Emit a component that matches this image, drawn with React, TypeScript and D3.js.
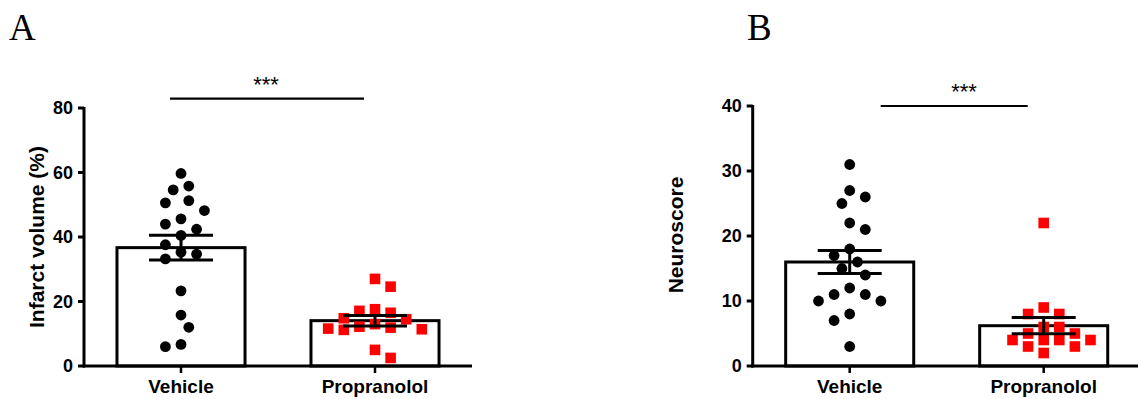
import React from "react";
import * as d3 from "d3";

// ---------- data ----------
const groups = ["Vehicle", "Propranolol"];

const infarctVehicle = [59.7, 55.8, 54.6, 51.3, 50.6, 48.2, 45.6, 44.0, 42.4, 40.5, 37.6, 35.3, 34.7, 33.2, 23.3, 15.8, 12.0, 6.7, 6.0];
const infarctPropranolol = [27.0, 24.6, 17.6, 17.1, 16.5, 14.8, 14.5, 13.0, 12.2, 11.9, 11.6, 11.4, 11.2, 5.0, 2.5];

const neuroVehicle = [31, 27, 26, 25, 22, 21, 18, 17, 16, 15, 14, 12, 11, 11, 10, 10, 8, 7, 3];
const neuroPropranolol = [22, 9, 8, 8, 6, 6, 5, 5, 4, 4, 4, 4, 3, 3, 2];

const infarctTicks = [0, 20, 40, 60, 80];
const neuroTicks = [0, 10, 20, 30, 40];

// ---------- helpers ----------
const mean = (a: number[]) => d3.mean(a) as number;
const sem = (a: number[]) => (d3.deviation(a) as number) / Math.sqrt(a.length);

const SLOT = 7.8;

function swarm(values: number[], y: (v: number) => number, shape: "circle" | "square", size: number) {
  const order = values.map((v, i) => i).sort((a, b) => values[b] - values[a]);
  const placed: { dx: number; y: number }[] = [];
  const offsets = new Array(values.length).fill(0);
  let flip = 1;
  const collides = (dx: number, yy: number) =>
    placed.some((p) => {
      const ddx = Math.abs(p.dx - dx);
      const ddy = Math.abs(p.y - yy);
      if (shape === "circle") return Math.hypot(ddx, ddy) < size;
      return ddx < size && ddy < size;
    });
  for (const i of order) {
    const yy = y(values[i]);
    let chosen = 0;
    outer: for (let k = 0; k < 40; k++) {
      const cands = k === 0 ? [0] : [flip * k, -flip * k];
      for (const c of cands) {
        if (!collides(c * SLOT, yy)) {
          chosen = c;
          break outer;
        }
      }
    }
    if (chosen !== 0) flip = chosen > 0 ? -1 : 1;
    placed.push({ dx: chosen * SLOT, y: yy });
    offsets[i] = chosen * SLOT;
  }
  return offsets;
}

const SANS = "'Liberation Sans', Arial, sans-serif";

type PanelProps = {
  letter: string;
  letterX: number;
  axisX: number;
  yTop: number;
  yMax: number;
  ticks: number[];
  title: string;
  titleX: number;
  titleY: number;
  series: number[][];
  sigDx1: number;
  sigDx2: number;
  sigY: number;
  starX: number;
  starY: number;
};

const Y0 = 366;
const AXLEN = 388;

function Panel(p: PanelProps) {
  const x = d3
    .scaleBand<string>()
    .domain(groups)
    .range([p.axisX, p.axisX + AXLEN])
    .paddingInner(0.34)
    .paddingOuter(0.17);
  const y = d3.scaleLinear().domain([0, p.yMax]).range([Y0, p.yTop]);
  const bw = x.bandwidth();
  const cx = (g: string) => (x(g) as number) + bw / 2;
  const capHalf = 32;

  return (
    <g>
      <text x={p.letterX} y={40} fontFamily="'Liberation Serif', 'Times New Roman', serif" fontSize={37}>
        {p.letter}
      </text>

      {/* bars */}
      {groups.map((g, gi) => (
        <rect
          key={"bar" + g}
          x={x(g)}
          y={y(mean(p.series[gi]))}
          width={bw}
          height={Y0 - y(mean(p.series[gi]))}
          fill="#fff"
          stroke="#000"
          strokeWidth={3}
        />
      ))}

      {/* points */}
      {groups.map((g, gi) => {
        const vals = p.series[gi];
        const shape = gi === 0 ? "circle" : "square";
        const offs = swarm(vals, (v) => y(v), shape, gi === 0 ? 14 : 11);
        return (
          <g key={"pts" + g}>
            {vals.map((v, i) =>
              gi === 0 ? (
                <circle key={i} cx={cx(g) + offs[i]} cy={y(v)} r={5.4} fill="#000" />
              ) : (
                <rect key={i} x={cx(g) + offs[i] - 5.3} y={y(v) - 5.3} width={10.6} height={10.6} fill="#ff0000" />
              )
            )}
          </g>
        );
      })}

      {/* error bars */}
      {groups.map((g, gi) => {
        const m = mean(p.series[gi]);
        const s = sem(p.series[gi]);
        const c = cx(g);
        return (
          <g key={"err" + g} stroke="#000" strokeWidth={3}>
            <line x1={c} x2={c} y1={y(m + s)} y2={y(m - s)} />
            <line x1={c - capHalf} x2={c + capHalf} y1={y(m + s)} y2={y(m + s)} />
            <line x1={c - capHalf} x2={c + capHalf} y1={y(m - s)} y2={y(m - s)} />
          </g>
        );
      })}

      {/* y axis */}
      <line x1={p.axisX} x2={p.axisX} y1={p.yTop - 1} y2={Y0 + 1.5} stroke="#000" strokeWidth={3} />
      {p.ticks.map((t) => (
        <g key={"t" + t}>
          <line x1={p.axisX - 6} x2={p.axisX} y1={y(t)} y2={y(t)} stroke="#000" strokeWidth={3} />
          <text
            x={p.axisX - 11}
            y={y(t)}
            dy="0.36em"
            textAnchor="end"
            fontFamily={SANS}
            fontWeight="bold"
            fontSize={18}
          >
            {t}
          </text>
        </g>
      ))}

      {/* x axis */}
      <line x1={p.axisX - 1.5} x2={p.axisX + AXLEN} y1={Y0} y2={Y0} stroke="#000" strokeWidth={3} />
      {groups.map((g) => (
        <g key={"xt" + g}>
          <line x1={cx(g)} x2={cx(g)} y1={Y0} y2={Y0 + 7} stroke="#000" strokeWidth={2.5} />
          <text x={cx(g)} y={393} textAnchor="middle" fontFamily={SANS} fontWeight="bold" fontSize={19}>
            {g}
          </text>
        </g>
      ))}

      {/* axis title */}
      <text
        transform={`translate(${p.titleX},${p.titleY}) rotate(-90)`}
        textAnchor="middle"
        dy="0.36em"
        fontFamily={SANS}
        fontWeight="bold"
        fontSize={21}
      >
        {p.title}
      </text>

      {/* significance */}
      <line
        x1={cx(groups[0]) + p.sigDx1}
        x2={cx(groups[1]) + p.sigDx2}
        y1={p.sigY}
        y2={p.sigY}
        stroke="#000"
        strokeWidth={2.2}
      />
      <text x={p.starX} y={p.starY} textAnchor="middle" fontFamily={SANS} fontSize={22}>
        ***
      </text>
    </g>
  );
}

export default function App() {
  return (
    <svg
      width={1138}
      height={399}
      viewBox="0 0 1138 399"
      style={{ position: "absolute", left: 0, top: 0, display: "block", background: "#fff" }}
    >
      <rect width={1138} height={399} fill="#fff" />
      <Panel
        letter="A"
        letterX={9}
        axisX={84}
        yTop={108}
        yMax={80}
        ticks={infarctTicks}
        title="Infarct volume (%)"
        titleX={36}
        titleY={237}
        series={[infarctVehicle, infarctPropranolol]}
        sigDx1={-11}
        sigDx2={-11}
        sigY={98.7}
        starX={266}
        starY={92}
      />
      <Panel
        letter="B"
        letterX={747}
        axisX={752.7}
        yTop={106}
        yMax={40}
        ticks={neuroTicks}
        title="Neuroscore"
        titleX={675}
        titleY={235}
        series={[neuroVehicle, neuroPropranolol]}
        sigDx1={31}
        sigDx2={-16}
        sigY={106}
        starX={964}
        starY={99}
      />
    </svg>
  );
}
